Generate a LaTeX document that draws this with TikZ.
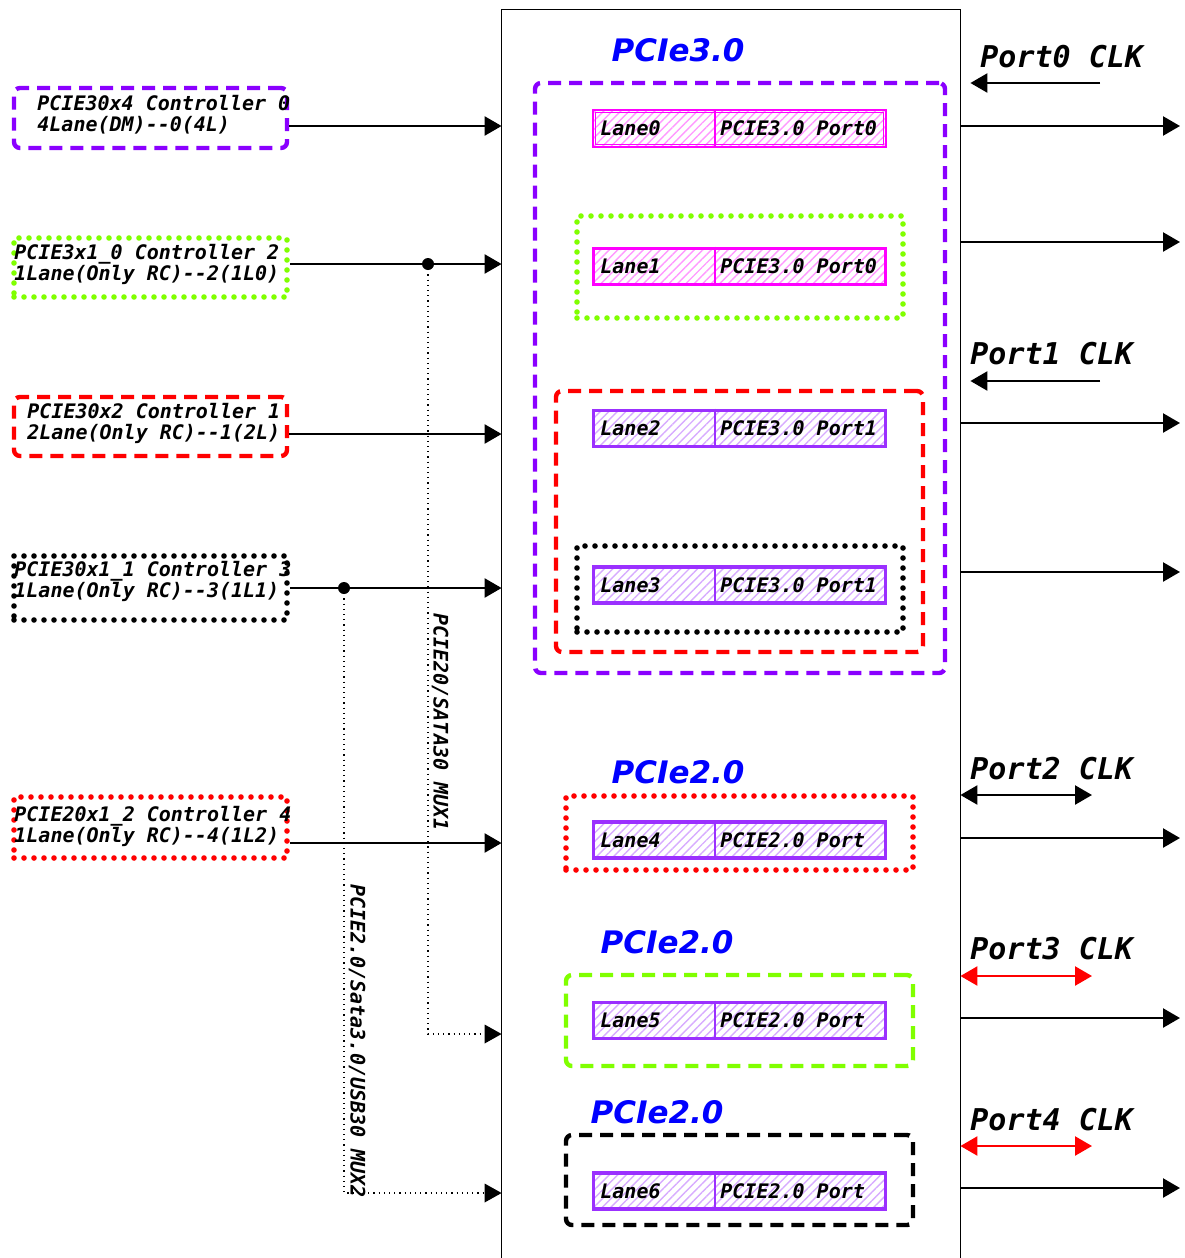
\documentclass[tikz,border=0pt]{standalone}
\usepackage{fontspec}
\setmonofont{DejaVu Sans Mono}
\newfontfamily\titlefont{DejaVu Sans}
\usetikzlibrary{arrows.meta,patterns.meta}
\definecolor{cpurple}{HTML}{8A00FF}
\definecolor{cgreen}{HTML}{80FF00}
\definecolor{cred}{HTML}{FF0000}
\definecolor{cmag}{HTML}{FF00FF}
\definecolor{clane}{HTML}{9B30FF}
\definecolor{ctitle}{HTML}{0000FF}
\begin{document}
\begin{tikzpicture}[x=0.5pt,y=-0.5pt,
  mono/.style={font=\ttfamily\bfseries\itshape\fontsize{10}{10.5}\selectfont, inner sep=0pt, align=left, anchor=west},
  clk/.style={font=\ttfamily\bfseries\itshape\fontsize{15}{18}\selectfont, inner sep=0pt, anchor=west},
  ttl/.style={font=\titlefont\bfseries\itshape\fontsize{15.5}{18}\selectfont, text=ctitle, inner sep=0pt},
  arr/.style={line width=1.2pt, -{Triangle[length=8.5pt,width=9.5pt]}},
  darr/.style={line width=1.2pt, {Triangle[length=8.5pt,width=9.5pt]}-{Triangle[length=8.5pt,width=9.5pt]}},
  dotarr/.style={line width=0.6pt, dotted, -{Triangle[length=8.5pt,width=9.5pt,line width=0pt]}},
  dashbox/.style={draw=#1, line width=2.2pt, dash pattern=on 6.5pt off 4pt, rounded corners=3pt, inner sep=0pt},
  dotbox/.style={draw=#1, line width=2.8pt, dash pattern=on 0pt off 5pt, line cap=round, inner sep=0pt},
  lanebox/.style={draw=#1, line width=1.3pt, pattern={Lines[angle=45,distance=3pt,line width=0.7pt]}, pattern color=#1!40, inner sep=0pt, minimum width=146.5pt, minimum height=18.5pt},
  jdot/.style={circle, fill=black, inner sep=0pt, minimum size=6pt},
]
\useasboundingbox (0,0) rectangle (1184,1258);

% main box
\node[minimum width=229pt, minimum height=624pt, inner sep=0pt] (main) at (731,634) {};
\draw[line width=0.8pt] (main.south west) |- (main.north east) -- (main.south east);

% left controller boxes
\node[dashbox=cpurple, minimum width=136.5pt, minimum height=30pt] (b1) at (150.5,118) {};
\node[dotbox=cgreen, minimum width=136.5pt, minimum height=29.5pt] (b2) at (150.5,267.5) {};
\node[dashbox=cred, minimum width=136.5pt, minimum height=29.5pt] (b3) at (150.5,426.5) {};
\node[dotbox=black, minimum width=136.5pt, minimum height=32pt] (b4) at (150.5,588) {};
\node[dotbox=cred, minimum width=136.5pt, minimum height=30.5pt] (b5) at (150.5,827.5) {};

\node[mono] (t1) at (37,114.5) {PCIE30x4 Controller 0\\4Lane(DM)--0(4L)};
\node[mono] (t2) at (14,264) {PCIE3x1\_0 Controller 2\\1Lane(Only RC)--2(1L0)};
\node[mono] (t3) at (27,423.5) {PCIE30x2 Controller 1\\2Lane(Only RC)--1(2L)};
\node[mono] (t4) at (14,581) {PCIE30x1\_1 Controller 3\\1Lane(Only RC)--3(1L1)};
\node[mono] (t5) at (14,826) {PCIE20x1\_2 Controller 4\\1Lane(Only RC)--4(1L2)};

% arrows into main
\draw[arr] (b1.east |- 0,126) -- (main.west |- 0,126);
\draw[arr] (b2.east |- 0,264) -- (main.west |- 0,264);
\draw[arr] (b3.east |- 0,434) -- (main.west |- 0,434);
\draw[arr] (b4.east |- 0,588) -- (main.west |- 0,588);
\draw[arr] (b5.east |- 0,843) -- (main.west |- 0,843);

% mux junctions
\node[jdot] (j1) at (428,264) {};
\node[jdot] (j2) at (344,588) {};
\coordinate (k1) at (428,1034);
\coordinate (k2) at (344,1193);
\draw[dotarr] (j1.center) -- (k1) -- (main.west |- k1);
\draw[dotarr] (j2.center) -- (k2) -- (main.west |- k2);

\node[mono, anchor=center, rotate=-90] (mux1) at (440,722) {PCIE20/SATA30 MUX1};
\node[mono, anchor=center, rotate=-90] (mux2) at (357,1041) {PCIE2.0/Sata3.0/USB30 MUX2};

% titles
\node[ttl] (h0) at (678,50) {PCIe3.0};
\node[ttl] (h1) at (678,772) {PCIe2.0};
\node[ttl] (h2) at (667,942) {PCIe2.0};
\node[ttl] (h3) at (657,1112) {PCIe2.0};

% group boxes
\node[dashbox=cpurple, minimum width=205pt, minimum height=295pt] (g0) at (740,378) {};
\node[dotbox=cgreen, minimum width=163pt, minimum height=51pt] (g1) at (740,267) {};
\node[dashbox=cred, minimum width=183.5pt, minimum height=130.5pt] (g2) at (739.5,521.5) {};
\node[dotbox=black, minimum width=163pt, minimum height=43pt] (g3) at (740,589) {};
\node[dotbox=cred, minimum width=173.5pt, minimum height=37pt] (g4) at (739.5,833) {};
\node[dashbox=cgreen, minimum width=173.5pt, minimum height=45.5pt] (g5) at (739.5,1020.5) {};
\node[dashbox=black, minimum width=173.5pt, minimum height=45pt] (g6) at (739.5,1180) {};

% lane boxes
\foreach \n/\y/\c/\p in {0/128.5/cmag/PCIE3.0 Port0, 1/266.5/cmag/PCIE3.0 Port0, 2/428.5/clane/PCIE3.0 Port1, 3/585/clane/PCIE3.0 Port1, 4/840/clane/PCIE2.0 Port, 5/1020.5/clane/PCIE2.0 Port, 6/1191/clane/PCIE2.0 Port}{
  \node[lanebox=\c] (l\n) at (739.5,\y) {};
  \draw[\c, line width=0.5pt] ([shift={(3,3)}]l\n.north west) rectangle ([shift={(-3,-3)}]l\n.south east);
  \draw[\c, line width=1pt] (l\n.north -| 715,0) -- (l\n.south -| 715,0);
  \node[mono] (la\n) at (600,\y) {Lane\n};
  \node[mono] (lp\n) at (720,\y) {\p};
}

% output arrows
\foreach \y [count=\i] in {126,242,423,572,838,1018,1188}{
  \coordinate (o\i) at (1180,\y);
  \draw[arr] (main.east |- o\i) -- (o\i);
}

% clocks
\node[clk] (p0) at (980,57) {Port0 CLK};
\node[clk] (p1) at (970,354) {Port1 CLK};
\node[clk] (p2) at (970,769) {Port2 CLK};
\node[clk] (p3) at (970,949) {Port3 CLK};
\node[clk] (p4) at (970,1120) {Port4 CLK};
\coordinate (c0) at (1100,83);
\coordinate (c1) at (1100,381);
\coordinate (c2) at (1092,795);
\coordinate (c3) at (1092,976);
\coordinate (c4) at (1092,1146);
\draw[arr] (c0) -- ([xshift=5]main.east |- c0);
\draw[arr] (c1) -- ([xshift=5]main.east |- c1);
\draw[darr] (main.east |- c2) -- (c2);
\draw[darr, cred] (main.east |- c3) -- (c3);
\draw[darr, cred] (main.east |- c4) -- (c4);
\end{tikzpicture}
\end{document}
